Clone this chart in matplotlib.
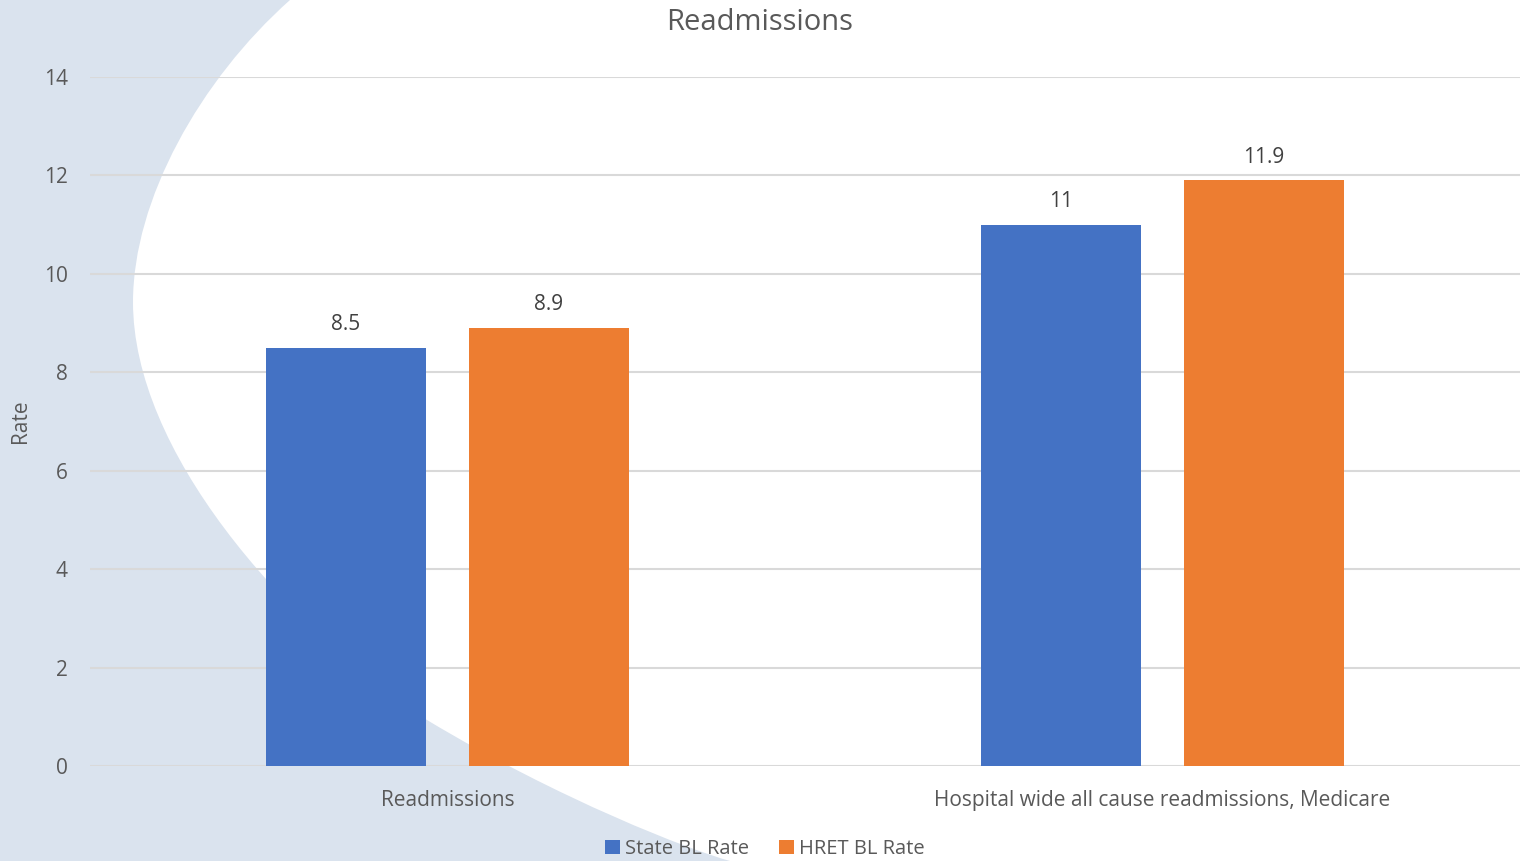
import numpy as np
import matplotlib
matplotlib.use("Agg")
from matplotlib import pyplot as plt
from matplotlib.path import Path
from matplotlib.patches import PathPatch

categories = ["Readmissions", "Hospital wide all cause readmissions, Medicare"]
state_bl = [8.5, 11]
hret_bl = [8.9, 11.9]
series_names = ["State BL Rate", "HRET BL Rate"]

plt.rcParams['font.family'] = ['Open Sans', 'DejaVu Sans']

W, H = 1527, 861
fig = plt.figure(figsize=(W / 100, H / 100), dpi=100)
fig.patch.set_facecolor("white")

# light blue background swoosh on the left, drawn in a full-figure axes (pixel coords, y from top)
bg = fig.add_axes([0, 0, 1, 1], zorder=-1)
bg.set_xlim(0, W)
bg.set_ylim(H, 0)
bg.axis("off")
verts = [(0, 0), (290, 0),
         (200, 80), (133, 200), (133, 302),
         (133, 450), (280, 620), (427, 720),
         (560, 800), (690, 850), (730, 861),
         (0, 861), (0, 0)]
codes = [Path.MOVETO, Path.LINETO,
         Path.CURVE4, Path.CURVE4, Path.CURVE4,
         Path.CURVE4, Path.CURVE4, Path.CURVE4,
         Path.CURVE4, Path.CURVE4, Path.CURVE4,
         Path.LINETO, Path.CLOSEPOLY]
bg.add_patch(PathPatch(Path(verts, codes), facecolor="#DAE3EE", edgecolor="none"))

ax = fig.add_axes([90 / W, 1 - 766 / H, 1430 / W, (766 - 77) / H])
ax.patch.set_alpha(0)

x = np.arange(len(categories))
w = 0.224
off = 0.142
b1 = ax.bar(x - off, state_bl, w, color="#4472C4", label=series_names[0], zorder=3)
b2 = ax.bar(x + off, hret_bl, w, color="#ED7D31", label=series_names[1], zorder=3)

for bars, vals in [(b1, state_bl), (b2, hret_bl)]:
    for r, v in zip(bars, vals):
        ax.annotate(f"{v:g}", (r.get_x() + r.get_width() / 2, v), xytext=(0, 9),
                    textcoords="offset points", ha="center", va="bottom",
                    fontsize=15, color="#404040")

ax.set_xlim(-0.5, 1.5)
ax.set_ylim(0, 14)
ax.set_yticks(range(0, 15, 2))
ax.set_xticks(x)
ax.set_xticklabels(categories, fontsize=15, color="#595959")
ax.tick_params(axis="y", labelsize=15, labelcolor="#595959", length=0, pad=16)
ax.tick_params(axis="x", length=0, pad=17)
ax.grid(axis="y", color="#D9D9D9", linewidth=1.5, zorder=0)
ax.set_axisbelow(True)
for s in ax.spines.values():
    s.set_visible(False)

fig.text(20 / W, 1 - 421 / H, "Rate", rotation=90, ha="center", va="center",
         fontsize=15, color="#595959")
fig.text(760 / W, 1 - 22 / H, "Readmissions", ha="center", va="center",
         fontsize=21, color="#595959")

fig.legend(loc="center", bbox_to_anchor=(765 / W, 1 - 849 / H), ncol=2, frameon=False,
           fontsize=14.5, labelcolor="#595959", handlelength=0.75, handleheight=0.75,
           handletextpad=0.25, columnspacing=1.5)

fig.savefig("out.png", dpi=100)
